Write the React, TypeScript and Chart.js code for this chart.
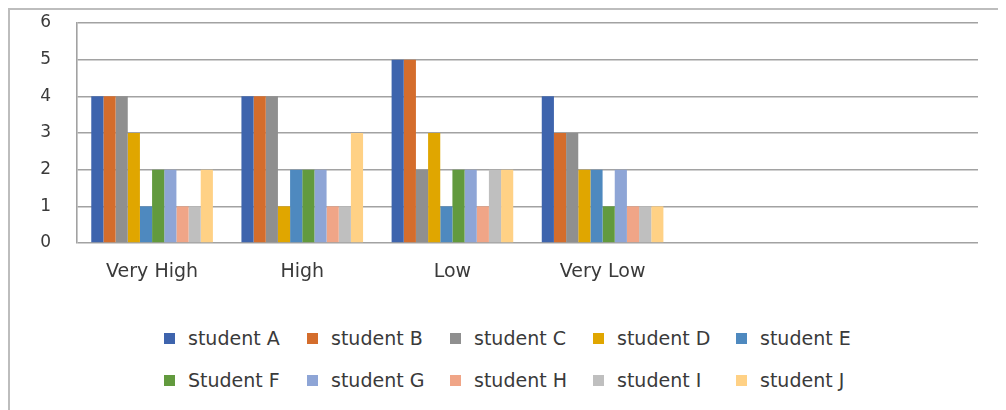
import React, { useEffect, useRef } from "react";
import { Chart, registerables } from "chart.js";

Chart.register(...registerables);

const categories = ["Very High", "High", "Low", "Very Low", "", ""];
const seriesNames = [
  "student A", "student B", "student C", "student D", "student E",
  "Student F", "student G", "student H", "student I", "student J",
];
const studentA = [4, 4, 5, 4];
const studentB = [4, 4, 5, 3];
const studentC = [4, 4, 2, 3];
const studentD = [3, 1, 3, 2];
const studentE = [1, 2, 1, 2];
const studentF = [2, 2, 2, 1];
const studentG = [2, 2, 2, 2];
const studentH = [1, 1, 1, 1];
const studentI = [1, 1, 2, 1];
const studentJ = [2, 3, 2, 1];
const seriesValues = [studentA, studentB, studentC, studentD, studentE, studentF, studentG, studentH, studentI, studentJ];
const seriesColors = [
  "#3E64AD", "#D46D2C", "#8F8F8F", "#E0A600", "#4E89BF",
  "#629A3E", "#8EA5D6", "#F0A587", "#BFBFBF", "#FFD185",
];
const yTicks = [0, 1, 2, 3, 4, 5, 6];

const FONT = "'DejaVu Sans', sans-serif";
const TEXT = "#3a3a3a";

export default function App() {
  const ref = useRef<HTMLCanvasElement | null>(null);

  useEffect(() => {
    if (!ref.current) return;
    const chart = new Chart(ref.current, {
      type: "bar",
      data: {
        labels: categories,
        datasets: seriesNames.map((name, i) => ({
          label: name,
          data: seriesValues[i],
          backgroundColor: seriesColors[i],
          borderWidth: 0,
          barPercentage: 1,
          categoryPercentage: 0.81,
        })),
      },
      options: {
        animation: false,
        responsive: true,
        maintainAspectRatio: false,
        layout: { padding: { left: 0, right: 28, top: 13, bottom: 0 } },
        plugins: {
          legend: { display: false },
          tooltip: { enabled: false },
        },
        scales: {
          x: {
            grid: { display: false },
            border: { display: false },
            ticks: {
              color: TEXT,
              font: { family: FONT, size: 19 },
              padding: 10,
              maxRotation: 0,
              autoSkip: false,
            },
            afterFit: (scale: any) => {
              scale.height = 67;
              scale.paddingLeft = 0;
              scale.paddingRight = 0;
            },
          },
          y: {
            min: yTicks[0],
            max: yTicks[yTicks.length - 1],
            grid: { color: "#a2a2a2", lineWidth: 1.6, drawTicks: false },
            border: { display: true, color: "#a2a2a2", width: 1.6 },
            ticks: {
              stepSize: 1,
              color: TEXT,
              font: { family: FONT, size: 17 },
              padding: 26,
            },
            afterFit: (scale: any) => {
              scale.width = 67;
              scale.paddingTop = 0;
              scale.paddingBottom = 0;
            },
          },
        },
      },
    });
    return () => chart.destroy();
  }, []);

  return (
    <div
      style={{
        position: "relative",
        width: 998,
        height: 402,
        boxSizing: "border-box",
        borderTop: "2px solid #bdbdbd",
        borderLeft: "2px solid #bdbdbd",
        background: "#fff",
        overflow: "hidden",
      }}
    >
      <div style={{ position: "relative", width: 996, height: 300 }}>
        <canvas ref={ref} />
      </div>
      <div
        style={{
          position: "absolute",
          left: 154,
          top: 307,
          display: "grid",
          gridTemplateColumns: "repeat(5, 143px)",
          gridAutoRows: "42px",
          fontFamily: FONT,
          fontSize: 19,
          color: TEXT,
        }}
      >
        {seriesNames.map((name, i) => (
          <div key={name} style={{ display: "flex", alignItems: "center", whiteSpace: "nowrap" }}>
            <span
              style={{
                display: "inline-block",
                width: 11,
                height: 11,
                marginRight: 13,
                background: seriesColors[i],
              }}
            />
            <span style={{ lineHeight: 1 }}>{name}</span>
          </div>
        ))}
      </div>
    </div>
  );
}
